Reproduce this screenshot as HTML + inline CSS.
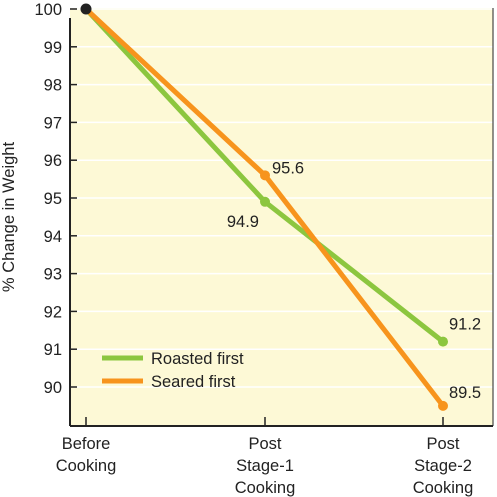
<!DOCTYPE html>
<html><head><meta charset="utf-8"><style>
body{margin:0;background:#fff;}
svg{display:block;font-family:"Liberation Sans",sans-serif;}
</style></head><body>
<svg width="497" height="497">
<g id="g"></g>
</svg>
<script>
const categories=["Before|Cooking","Post|Stage-1|Cooking","Post|Stage-2|Cooking"];
const roasted=[100,94.9,91.2];
const seared=[100,95.6,89.5];
const yTicks=[90,91,92,93,94,95,96,97,98,99,100];
const NS="http://www.w3.org/2000/svg";
const g=document.getElementById('g');
const L=70,R=493,T=8,B=426;
const xs=[86,265,443];
const x=i=>xs[i];
const y=v=>387-(v-90)*37.8;
const FS=16.5;
function el(t,a,p){const e=document.createElementNS(NS,t);for(const k in a)e.setAttribute(k,a[k]);(p||g).appendChild(e);return e;}
let bg=el('rect',{x:L,y:T,width:R-L,height:B-T,fill:'#fdf9d6'});


yTicks.forEach(v=>{
  let gl=el('line',{x1:L,x2:R,y1:y(v),y2:y(v),stroke:'#fff','stroke-width':1.5});
  
  
  el('line',{x1:L,x2:L+7,y1:y(v),y2:y(v),stroke:'#222','stroke-width':1.5});
  let t=el('text',{x:62,y:y(v)+6,'text-anchor':'end','font-size':FS,fill:'#222'});
  t.textContent=v;
  
  
});
el('line',{x1:L,x2:L,y1:T+10,y2:B,stroke:'#222','stroke-width':2});
el('line',{x1:L,x2:R,y1:B,y2:B,stroke:'#222','stroke-width':2});
el('line',{x1:R,x2:R,y1:T,y2:B,stroke:'#222','stroke-width':1});
categories.forEach((c,i)=>{
  el('line',{x1:x(i),x2:x(i),y1:B-9,y2:B,stroke:'#222','stroke-width':1.5});
  const parts=c.split('|');
  let t=el('text',{x:x(i),'text-anchor':'middle','font-size':FS,fill:'#222'});
  
  
  parts.forEach((p,k)=>{let s=el('tspan',{x:x(i),y:449+k*22},t);s.textContent=p;});
});
let yt=el('text',{transform:'translate(14,217) rotate(-90)','text-anchor':'middle','font-size':FS,fill:'#222'});
yt.textContent='% Change in Weight';


function series(vals,color,name){
  let p=el('polyline',{points:vals.map((v,i)=>x(i)+','+y(v)).join(' '),fill:'none',stroke:color,'stroke-width':5,'stroke-linejoin':'round'});
  
  
  vals.forEach((v,i)=>{if(i===0)return;
    let c=el('circle',{cx:x(i),cy:y(v),r:5,fill:color});
    
    
  });
}
series(roasted,'#8cc63f','roasted');
series(seared,'#f7941d','seared');
let c0=el('circle',{cx:x(0),cy:y(100),r:5.5,fill:'#222'});


function lab(txt,xx,yy,anchor){let t=el('text',{x:xx,y:yy,'font-size':FS,fill:'#222','text-anchor':anchor||'start'});t.textContent=txt;

}
lab(seared[1].toFixed(1),x(1)+7,y(seared[1])-2);
lab(roasted[1].toFixed(1),x(1)-6,y(roasted[1])+25,'end');
lab(roasted[2].toFixed(1),x(2)+6,y(roasted[2])-12);
lab(seared[2].toFixed(1),x(2)+6,y(seared[2])-8);
[['Roasted first','#8cc63f',358],['Seared first','#f7941d',381]].forEach(([n,col,yy])=>{
  let l=el('line',{x1:102,x2:143,y1:yy,y2:yy,stroke:col,'stroke-width':5});
  
  
  let t=el('text',{x:151,y:yy+6,'font-size':FS,fill:'#222'});t.textContent=n;
  
  
});
</script>
</body></html>
